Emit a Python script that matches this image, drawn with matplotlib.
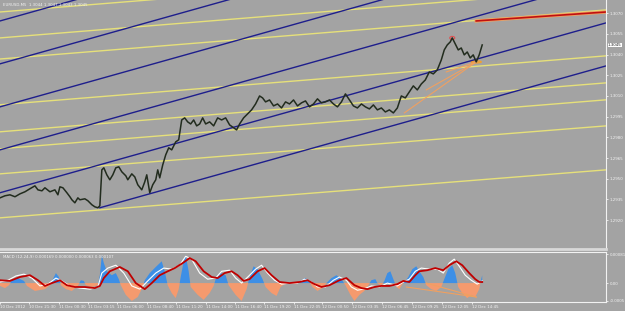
import numpy as np
import matplotlib
matplotlib.use('Agg')
import matplotlib.pyplot as plt
from matplotlib.patches import Ellipse

# Preco (fechamento aproximado) por barra
barras = [0, 5, 10, 15, 20, 25, 30, 35, 38, 42, 45, 50, 55, 58, 60, 63, 67, 70, 72, 75,
          78, 80, 85, 88, 92, 95, 98, 100, 102, 104, 107, 110, 113, 116, 119, 122, 126, 128,
          132, 135, 138, 142, 145, 147, 150, 153, 156, 158, 160, 163, 166, 169, 172, 176,
          179, 182, 185, 188, 191, 194, 197, 200, 203, 206, 210, 214, 218, 222, 226, 230,
          234, 237, 240, 244, 248, 252, 256, 260, 263, 266, 270, 274, 278, 282, 286, 290,
          294, 298, 302, 306, 310, 314, 318, 322, 326, 330, 334, 338, 342, 346, 350, 354,
          358, 362, 366, 370, 374, 378, 382, 386, 390, 394, 398, 402, 406, 410, 414, 418,
          422, 426, 430, 434, 438, 442, 445, 448, 451, 453, 456, 459, 462, 465, 468, 471,
          474, 477, 480, 483]
precos = [1.29361, 1.29376, 1.29383, 1.29369, 1.29390, 1.29405, 1.29427, 1.29448, 1.29419,
          1.29412, 1.29434, 1.29405, 1.29419, 1.29383, 1.29441, 1.29434, 1.29398, 1.29369,
          1.29347, 1.29325, 1.29361, 1.29347, 1.29354, 1.29340, 1.29311, 1.29296, 1.29289,
          1.29303, 1.29564, 1.29579, 1.29528, 1.29492, 1.29528, 1.29579, 1.29586, 1.29550,
          1.29521, 1.29492, 1.29535, 1.29513, 1.29456, 1.29419, 1.29477, 1.29528, 1.29398,
          1.29456, 1.29492, 1.29564, 1.29506, 1.29600, 1.29673, 1.29724, 1.29709, 1.29767,
          1.29782, 1.29926, 1.29941, 1.29912, 1.29897, 1.29926, 1.29883, 1.29897, 1.29941,
          1.29897, 1.29912, 1.29883, 1.29941, 1.29926, 1.29941, 1.29890, 1.29869, 1.29854,
          1.29897, 1.29941, 1.29970, 1.29999, 1.30042, 1.30100, 1.30086, 1.30057, 1.30071,
          1.30028, 1.30042, 1.30013, 1.30057, 1.30042, 1.30071, 1.30028, 1.30050, 1.30064,
          1.30021, 1.30042, 1.30079, 1.30050, 1.30057, 1.30071, 1.30042, 1.30021, 1.30057,
          1.30115, 1.30071, 1.30028, 1.30013, 1.30042, 1.30021, 1.30006, 1.30035, 1.29999,
          1.30013, 1.29984, 1.29999, 1.29977, 1.30013, 1.30100, 1.30086, 1.30129, 1.30173,
          1.30144, 1.30187, 1.30216, 1.30274, 1.30260, 1.30289, 1.30361, 1.30434, 1.30470,
          1.30492, 1.30521, 1.30477, 1.30434, 1.30448, 1.30398, 1.30419, 1.30376, 1.30398,
          1.30347, 1.30398, 1.30470]

# Linhas de canal (preco no inicio e no fim)
linhas_azuis = [(0, 1.30644, 607, 1.31876), (0, 1.30333, 607, 1.31565),
                (0, 1.30021, 607, 1.31253), (0, 1.29709, 607, 1.30941),
                (0, 1.29398, 607, 1.30630), (100, 1.29289, 607, 1.30318)]
linhas_amarelas = [(0, 1.30709, 607, 1.31064), (0, 1.30521, 607, 1.30876),
                   (0, 1.30368, 607, 1.30724), (0, 1.30036, 607, 1.30391),
                   (0, 1.29840, 607, 1.30195), (0, 1.29717, 607, 1.30072),
                   (0, 1.29535, 607, 1.29883), (0, 1.29216, 607, 1.29564)]
linha_vermelha = (477, 1.30644, 607, 1.30709)
leques_laranja = [(477, 1.30347, 405, 1.29977), (477, 1.30347, 427, 1.30144),
                  (477, 1.30347, 447, 1.30274)]

# MACD (unidades de 1e-5)
hist_x = [0, 5, 9, 12, 18, 24, 27, 35, 45, 50, 53, 56, 59, 61, 66, 72, 78, 81, 84, 86, 92, 98,
          100, 102, 104, 107, 112, 116, 119, 121, 126, 132, 138, 143, 145, 150, 156, 162, 165,
          168, 172, 176, 179, 181, 184, 186, 189, 191, 198, 204, 210, 214, 216, 221, 226, 229,
          236, 242, 247, 250, 254, 258, 263, 266, 272, 277, 281, 285, 290, 296, 302, 306, 310,
          313, 318, 323, 327, 332, 337, 342, 346, 351, 355, 360, 365, 369, 372, 376, 378, 382,
          385, 388, 391, 394, 397, 400, 403, 406, 409, 413, 417, 420, 424, 427, 432, 437, 442,
          445, 449, 453, 456, 459, 463, 468, 472, 476, 480, 482, 483]
hist_v = [-8, -14, -6, 8, 14, 6, -8, -22, -17, -6, 11, 28, 17, -6, -17, -22, -8, 8, 6, -6,
          -11, -6, 22, 78, 56, 33, 22, 28, 11, -6, -33, -50, -39, -11, 8, 28, 45, 61, 33, -6,
          -28, -42, -17, 17, 61, 78, 33, -11, -33, -47, -28, -8, 11, 28, 22, -6, -33, -50, -17,
          17, 47, 39, 11, -11, -28, -36, -11, -3, 3, -3, 8, 14, 3, -11, -22, -14, 0, 14, 22, 11,
          -6, -33, -50, -33, -22, -6, 8, 11, 0, -8, 6, 28, 33, 11, -11, -17, -3, 6, 17, 39, 47,
          33, 17, -6, -17, -22, -11, 11, 39, 50, 28, -11, -28, -42, -33, -39, -17, 11, 22]
sinal_x = [0, 10, 20, 30, 38, 45, 52, 60, 67, 75, 85, 95, 100, 104, 110, 120, 128, 136, 145,
           152, 160, 168, 175, 183, 190, 196, 204, 212, 218, 225, 232, 238, 244, 250, 258, 265,
           272, 280, 290, 300, 308, 315, 322, 330, 340, 347, 355, 362, 368, 375, 382, 390, 398,
           404, 410, 416, 420, 428, 436, 444, 450, 457, 463, 470, 476, 480, 483]
sinal_v = [8, 6, 17, 22, 8, -8, 0, 8, -6, -11, -11, -14, -8, 14, 33, 45, 33, 0, -17, 0, 22,
           33, 42, 56, 70, 61, 33, 17, 14, 28, 33, 22, 6, 11, 33, 42, 22, 3, 0, 3, 8, -3, -11,
           -6, 8, 14, -6, -14, -17, -11, -8, -8, -3, 6, 3, 22, 33, 36, 42, 36, 50, 61, 50, 28,
           11, 3, 3]
macd_x = [0, 8, 16, 24, 32, 40, 48, 56, 62, 70, 80, 90, 98, 102, 108, 116, 124, 132, 140, 148,
          156, 164, 172, 180, 186, 192, 200, 208, 216, 222, 230, 236, 242, 250, 256, 262, 268,
          275, 282, 290, 298, 305, 312, 318, 326, 334, 340, 347, 352, 358, 364, 372, 380, 388,
          392, 398, 404, 410, 416, 422, 430, 438, 444, 450, 455, 460, 466, 472, 478, 483]
macd_v = [3, 8, 20, 25, 14, -8, -3, 14, 6, -8, -14, -17, -11, 28, 42, 50, 28, -8, -17, 6, 28,
          42, 39, 50, 75, 67, 28, 11, 14, 33, 36, 14, 0, 22, 39, 50, 28, 8, -3, 0, 0, 11, 3,
          -11, -11, 8, 17, 8, -11, -20, -17, -8, -11, 0, -3, -8, 3, 11, 33, 42, 39, 39, 28, 56,
          67, 47, 22, 8, -3, 6]
macd_laranja = [(407, -11, 477, -39), (427, 0, 477, -39)]

rotulos_x = ['10 Dec 2012', '10 Dec 21:30', '11 Dec 00:30', '11 Dec 03:15', '11 Dec 06:00',
             '11 Dec 08:40', '11 Dec 11:20', '11 Dec 14:00', '11 Dec 16:40', '11 Dec 19:20',
             '11 Dec 22:05', '12 Dec 00:50', '12 Dec 03:35', '12 Dec 06:45', '12 Dec 09:25',
             '12 Dec 12:05', '12 Dec 14:45']
pos_x = [0, 29.5, 59, 88, 117, 147, 176, 206, 235, 264, 294, 323, 353, 383, 413, 443, 473]
precos_eixo = [1.3070, 1.3055, 1.3040, 1.3025, 1.3010, 1.2995, 1.2980, 1.2965, 1.2950,
               1.2935, 1.2920]

fundo = '#a3a3a3'
azul = '#1e1e8c'
amarelo = '#e6e07a'
branco = '#f2f2f2'

fig = plt.figure(figsize=(6.25, 3.11), dpi=100, facecolor=fundo)
ax = fig.add_axes([0, 62 / 311, 606 / 625, 249 / 311], facecolor=fundo)
ax2 = fig.add_axes([0, 9 / 311, 606 / 625, 50 / 311], facecolor=fundo)

for x0, p0, x1, p1 in linhas_amarelas:
    ax.plot([x0, x1], [p0, p1], color=amarelo, lw=1.0)
for x0, p0, x1, p1 in linhas_azuis:
    ax.plot([x0, x1], [p0, p1], color=azul, lw=1.0)
x0, p0, x1, p1 = linha_vermelha
ax.plot([x0, x1], [p0, p1], color='#f0a060', lw=2.4)
ax.plot([x0, x1], [p0, p1], color='#c01010', lw=1.2)
for x0, p0, x1, p1 in leques_laranja:
    ax.plot([x0, x1], [p0, p1], color='#f0a060', lw=0.8)

ax.plot(barras, precos, color='#222c1e', lw=1.1)
ax.add_patch(Ellipse((453, 1.30521), 5, 0.00022, fill=False, ec='#e05050', lw=0.8))
ax.add_patch(Ellipse((477, 1.30347), 10, 0.00014, fill=False, ec='#f0a030', lw=1.0))

ax.set_xlim(0, 607)
ax.set_ylim(1.28990, 1.30796)
ax.set_xticks([])
ax.yaxis.tick_right()
ax.set_yticks(precos_eixo)
ax.set_yticklabels(['%.4f' % p for p in precos_eixo], fontsize=2.9, color=branco)
ax.tick_params(axis='y', length=1.5, width=0.6, color=branco, pad=1)
for lado in ['left', 'top']:
    ax.spines[lado].set_visible(False)
ax.spines['right'].set_color(branco)
ax.spines['bottom'].set_color('#d8d8d8')
ax.spines['bottom'].set_linewidth(2)
ax.text(609, precos[-1], '1.3045', fontsize=2.9, color='#202020', va='center', ha='left',
        bbox=dict(boxstyle='square,pad=0.1', fc='white', ec='none'), clip_on=False)
ax.text(3, 1.30752, 'EURUSD,M5  1.3044 1.3047 1.3043 1.3045', fontsize=2.8, color=branco)

hx = np.array(hist_x)
hv = np.array(hist_v) * 1e-5
ax2.fill_between(hx, 0, hv, where=hv >= 0, color='#3d8fe6', lw=0, interpolate=True)
ax2.fill_between(hx, 0, hv, where=hv <= 0, color='#f59a6e', lw=0, interpolate=True)
ax2.plot(macd_x, np.array(macd_v) * 1e-5, color='white', lw=0.8)
ax2.plot(sinal_x, np.array(sinal_v) * 1e-5, color='#c00000', lw=1.3)
for x0, v0, x1, v1 in macd_laranja:
    ax2.plot([x0, x1], [v0 * 1e-5, v1 * 1e-5], color='#f0a060', lw=0.8)

ax2.set_xlim(0, 607)
ax2.set_ylim(-0.00053, 0.00087)
ax2.yaxis.tick_right()
ax2.set_yticks([0.00081, 0.0, -0.0005])
ax2.set_yticklabels(['0.00081', '0.00', '-0.0005'], fontsize=2.9, color=branco)
ax2.tick_params(axis='y', length=1.5, width=0.6, color=branco, pad=1)
ax2.set_xticks(pos_x)
ax2.set_xticklabels(rotulos_x, fontsize=2.9, color=branco, ha='left')
ax2.tick_params(axis='x', length=1.5, width=0.6, color=branco, pad=1)
ax2.spines['left'].set_visible(False)
for lado in ['right', 'top', 'bottom']:
    ax2.spines[lado].set_color(branco)
ax2.text(3, 0.00070, 'MACD (12,24,9) 0.000169 0.000000 0.000063 0.000107', fontsize=2.8,
         color=branco)

fig.savefig('out.png', dpi=100, facecolor=fundo)
